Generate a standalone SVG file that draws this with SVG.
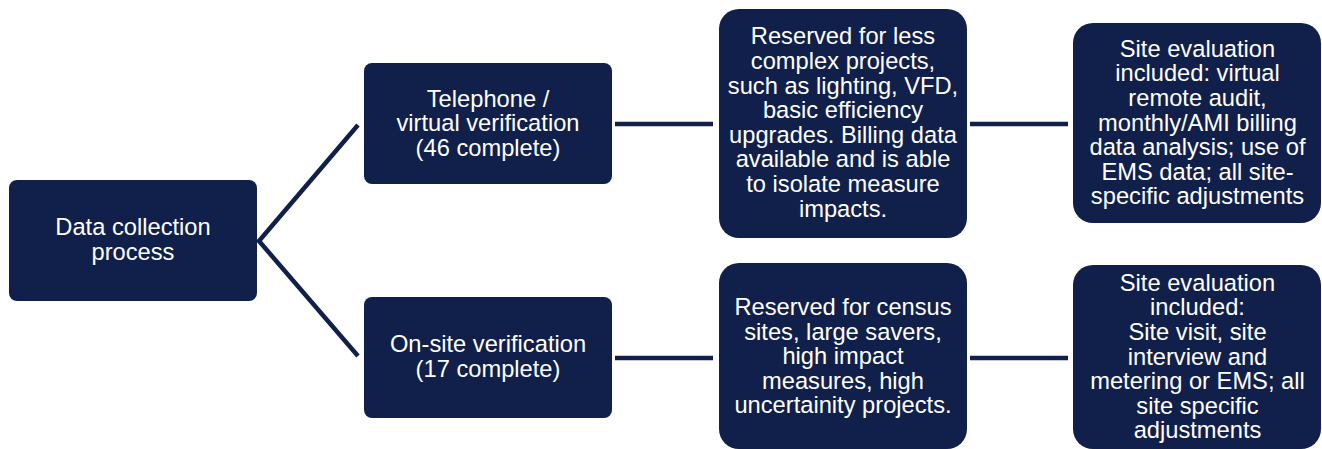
<svg xmlns="http://www.w3.org/2000/svg" width="1322" height="449" viewBox="0 0 1322 449">
  <style>
    .box { fill: #11204a; }
    .lbl { font-family: "Liberation Sans", Arial, sans-serif; font-size: 23.7px; fill: #ffffff; text-anchor: middle; }
    .link { stroke: #11204a; stroke-width: 4.5; fill: none; }
  </style>
  <rect width="1322" height="449" fill="#ffffff"/>

  <g id="connectors">
    <polyline class="link" points="358,125 259,241 358,356"/>
    <line class="link" x1="615" y1="124" x2="713" y2="124"/>
    <line class="link" x1="970" y1="124" x2="1068" y2="124"/>
    <line class="link" x1="615" y1="358" x2="713" y2="358"/>
    <line class="link" x1="970" y1="358" x2="1068" y2="358"/>
  </g>

  <g id="root">
    <rect class="box" x="9" y="180" width="248" height="121" rx="8"/>
    <text class="lbl" x="133"><tspan x="133" y="235">Data collection</tspan><tspan x="133" y="260">process</tspan></text>
  </g>

  <g id="telephone">
    <rect class="box" x="364" y="63" width="248" height="121" rx="8"/>
    <text class="lbl"><tspan x="488" y="106.5">Telephone /</tspan><tspan x="488" y="131">virtual verification</tspan><tspan x="488" y="155.5">(46 complete)</tspan></text>
  </g>

  <g id="onsite">
    <rect class="box" x="364" y="297" width="248" height="121" rx="8"/>
    <text class="lbl"><tspan x="488" y="352">On-site verification</tspan><tspan x="488" y="376.5">(17 complete)</tspan></text>
  </g>

  <g id="telephone-scope">
    <rect class="box" x="719" y="9" width="248" height="229" rx="20"/>
    <text class="lbl"><tspan x="843" y="44.3">Reserved for less</tspan><tspan x="843" y="68.9">complex projects,</tspan><tspan x="843" y="93.5">such as lighting, VFD,</tspan><tspan x="843" y="118.1">basic efficiency</tspan><tspan x="843" y="142.7">upgrades. Billing data</tspan><tspan x="843" y="167.3">available and is able</tspan><tspan x="843" y="191.9">to isolate measure</tspan><tspan x="843" y="216.5">impacts.</tspan></text>
  </g>

  <g id="onsite-scope">
    <rect class="box" x="719" y="263" width="248" height="186" rx="20"/>
    <text class="lbl"><tspan x="843" y="315">Reserved for census</tspan><tspan x="843" y="339.6">sites, large savers,</tspan><tspan x="843" y="364.2">high impact</tspan><tspan x="843" y="388.8">measures, high</tspan><tspan x="843" y="413.4">uncertainity projects.</tspan></text>
  </g>

  <g id="telephone-evaluation">
    <rect class="box" x="1073" y="23" width="248" height="200" rx="20"/>
    <text class="lbl"><tspan x="1197.5" y="56.7">Site evaluation</tspan><tspan x="1197.5" y="81.3">included: virtual</tspan><tspan x="1197.5" y="105.9">remote audit,</tspan><tspan x="1197.5" y="130.5">monthly/AMI billing</tspan><tspan x="1197.5" y="155.1">data analysis; use of</tspan><tspan x="1197.5" y="179.7">EMS data; all site-</tspan><tspan x="1197.5" y="204.3">specific adjustments</tspan></text>
  </g>

  <g id="onsite-evaluation">
    <rect class="box" x="1073" y="265" width="248" height="184" rx="20"/>
    <text class="lbl"><tspan x="1197.5" y="290.7">Site evaluation</tspan><tspan x="1197.5" y="315.3">included:</tspan><tspan x="1197.5" y="339.9">Site visit, site</tspan><tspan x="1197.5" y="364.5">interview and</tspan><tspan x="1197.5" y="389.1">metering or EMS; all</tspan><tspan x="1197.5" y="413.7">site specific</tspan><tspan x="1197.5" y="438.3">adjustments</tspan></text>
  </g>
</svg>
